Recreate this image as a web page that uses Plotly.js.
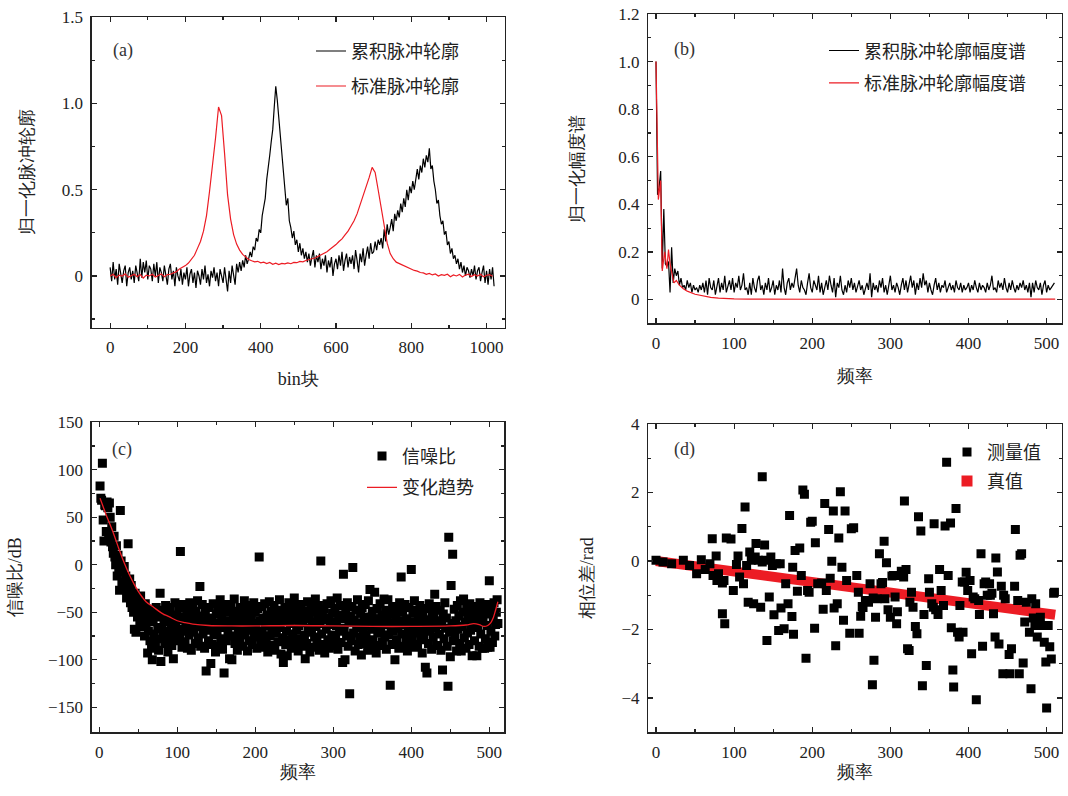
<!DOCTYPE html>
<html><head><meta charset="utf-8">
<script src="https://cdn.plot.ly/plotly-3.0.1.min.js"></script>
<style>html,body{margin:0;padding:0;background:#fff}#chart{width:1068px;height:796px}</style>
</head><body><div id="chart"></div>
<script>
// ---------- Panel (a): pulse profiles ----------
const aAccumStep = 4;   // bin spacing of accumulated profile samples
const aAccum = [
 0.05,-0.03,0.08,-0.02,0.04,-0.05,0.07,0.01,-0.04,0.03,
 0.06,-0.06,0.02,0.05,-0.02,0.03,-0.04,0.06,0.0,-0.03,
 0.1,-0.01,0.08,0.02,0.09,-0.02,0.06,0.04,-0.03,0.07,
 0.0,0.08,-0.04,0.05,0.02,-0.03,0.06,0.01,-0.05,0.04,
 0.07,-0.02,0.03,-0.06,0.05,0.0,-0.03,0.04,-0.05,0.02,
 -0.02,0.05,-0.06,0.01,0.04,-0.04,0.02,-0.07,0.03,0.0,
 -0.05,0.04,-0.02,0.06,-0.04,0.01,-0.06,0.03,-0.01,0.05,
 -0.03,0.02,-0.06,0.04,0.0,-0.04,0.05,-0.02,-0.09,0.03,
 -0.04,0.06,0.0,-0.05,0.07,0.02,0.08,0.03,0.09,0.05,
 0.12,0.07,0.1,0.14,0.11,0.17,0.15,0.22,0.2,0.27,
 0.25,0.35,0.4,0.45,0.56,0.62,0.7,0.78,0.85,0.98,
 1.1,1.02,0.92,0.78,0.72,0.6,0.52,0.41,0.45,0.32,
 0.28,0.22,0.26,0.18,0.21,0.14,0.19,0.12,0.16,0.1,
 0.14,0.08,0.13,0.06,0.11,0.15,0.05,0.12,0.08,0.13,
 0.04,0.1,0.06,0.12,0.02,0.09,0.05,0.11,0.0,0.07,
 0.1,0.04,0.12,0.06,0.14,0.03,0.09,0.13,0.05,0.11,
 0.07,0.12,0.04,0.15,0.09,0.02,0.13,0.08,0.16,0.06,
 0.12,0.17,0.1,0.19,0.13,0.14,0.2,0.15,0.21,0.18,
 0.22,0.16,0.27,0.2,0.3,0.24,0.28,0.33,0.26,0.36,
 0.32,0.38,0.34,0.42,0.37,0.45,0.4,0.5,0.44,0.52,
 0.48,0.55,0.5,0.58,0.62,0.56,0.64,0.6,0.68,0.63,
 0.7,0.66,0.74,0.62,0.64,0.55,0.5,0.42,0.44,0.35,
 0.3,0.32,0.24,0.26,0.18,0.2,0.13,0.16,0.1,0.12,
 0.07,0.1,0.04,0.08,0.02,0.06,0.0,0.05,0.03,-0.01,
 0.04,0.0,0.06,-0.02,0.03,0.05,-0.03,0.02,0.06,-0.04,
 0.03,-0.05,0.04,-0.02,0.05,-0.06
];
const aStdStep = 8;
const aStd = [
 0.0,0.01,-0.01,0.005,0.0,0.012,-0.008,0.0,
 0.01,-0.005,0.008,-0.012,0.005,0.0,0.01,-0.006,
 0.004,0.012,-0.004,0.008,0.01,0.018,0.025,0.04,
 0.05,0.06,0.075,0.095,0.12,0.16,0.2,0.26,
 0.35,0.49,0.63,0.8,0.98,0.93,0.71,0.47,
 0.33,0.24,0.185,0.15,0.125,0.11,0.095,0.088,
 0.082,0.085,0.076,0.08,0.072,0.078,0.068,0.074,
 0.066,0.073,0.07,0.076,0.071,0.079,0.077,0.084,
 0.082,0.09,0.093,0.1,0.104,0.113,0.12,0.132,
 0.14,0.155,0.168,0.182,0.2,0.215,0.238,0.26,
 0.29,0.32,0.36,0.41,0.46,0.52,0.57,0.63,
 0.6,0.5,0.39,0.28,0.19,0.13,0.1,0.08,
 0.072,0.06,0.055,0.046,0.04,0.032,0.028,0.02,
 0.018,0.01,0.015,0.006,0.012,0.0,0.008,0.004,
 0.01,-0.004,0.006,0.0,0.009,-0.006,0.005,0.01,
 -0.003,0.007,0.0,0.01,-0.005,0.004,0.008,-0.002
];

// ---------- Panel (b): amplitude spectra ----------
const bSpecStep = 2;
const bSpec = [
 1.0,0.44,0.47,0.54,0.13,0.38,0.15,0.14,0.16,0.03,
 0.22,0.07,0.13,0.1,0.12,0.06,0.09,0.05,0.06,0.04,
 0.08,0.05,0.07,0.03,0.06,0.04,0.05,0.03,0.06,0.04,
 0.07,0.03,0.08,0.02,0.09,0.05,0.04,0.08,0.02,0.06,
 0.09,0.03,0.07,0.04,0.1,0.03,0.05,0.08,0.04,0.09,
 0.03,0.07,0.05,0.1,0.04,0.06,0.11,0.04,0.05,0.02,
 0.07,0.02,0.09,0.05,0.03,0.08,0.1,0.04,0.06,0.02,
 0.07,0.04,0.09,0.03,0.05,0.08,0.02,0.06,0.04,0.08,
 0.03,0.13,0.05,0.02,0.07,0.09,0.04,0.07,0.05,0.1,
 0.13,0.06,0.03,0.08,0.05,0.04,0.02,0.07,0.11,0.05,
 0.03,0.08,0.06,0.04,0.1,0.03,0.07,0.02,0.05,0.08,
 0.04,0.1,0.06,0.03,0.09,0.01,0.07,0.05,0.1,0.04,
 0.02,0.06,0.03,0.08,0.05,0.09,0.04,0.07,0.03,0.06,
 0.08,0.04,0.06,0.02,0.05,0.07,0.04,0.11,0.01,0.07,
 0.04,0.06,0.03,0.08,0.05,0.09,0.03,0.06,0.02,0.07,
 0.1,0.04,0.06,0.03,0.07,0.05,0.02,0.06,0.09,0.04,
 0.08,0.03,0.06,0.1,0.05,0.08,0.02,0.07,0.04,0.09,
 0.05,0.11,0.06,0.08,0.03,0.07,0.04,0.02,0.06,0.09,
 0.04,0.07,0.03,0.06,0.05,0.08,0.03,0.05,0.07,0.04,
 0.06,0.03,0.08,0.05,0.04,0.07,0.03,0.06,0.04,0.05,
 0.07,0.03,0.06,0.04,0.08,0.05,0.03,0.07,0.04,0.06,
 0.05,0.03,0.07,0.04,0.06,0.1,0.04,0.05,0.03,0.08,
 0.05,0.07,0.04,0.09,0.05,0.03,0.07,0.04,0.08,0.05,
 0.03,0.06,0.04,0.07,0.05,0.08,0.04,0.06,0.03,0.07,
 0.01,0.07,0.03,0.08,0.05,0.04,0.07,0.02,0.06,0.08,
 0.03,0.06,0.04,0.05,0.06,0.07
];
const bStdX = [0,3,6,8,11,14,16,18,21,23,26,30,35,40,50,60,70,80,90,100,120,150,200,250,300,350,400,450,480,500,511];
const bStd  = [1.0,0.42,0.5,0.12,0.2,0.13,0.21,0.15,0.1,0.07,0.08,0.06,0.045,0.035,0.022,0.014,0.009,0.006,0.004,0.003,0.002,0.001,0.001,0.002,0.001,0.002,0.001,0.002,0.003,0.001,0.002];

// ---------- Panel (c): SNR per frequency ----------
const cFirstFreq = 1;
const cSNR = [
 83,70,68,107,47,25,63,62,35,66,
 60,31,65,50,24,40,19,12,30,8,
 0,20,-12,10,-5,-27,57,4,-18,-8,
 -25,-2,-20,-12,-35,-28,22,-30,-15,-40,
 -22,-45,-35,-50,-68,-30,-71,-42,-55,-38,
 -48,-60,-33,-52,-65,-45,-58,-75,-41,-62,
 -50,-93,-70,-55,-80,-47,-88,-100,-60,-73,
 -52,-85,-45,-78,-66,-90,-55,-30,-102,-68,
 -48,-75,-60,-83,-43,-70,-58,-92,-50,-77,
 -45,-65,-85,-57,-99,-72,-40,-62,-80,-53,
 -68,-45,-76,14,-58,-87,-42,-70,-55,-81,
 -63,-47,-88,-52,-74,-40,-66,-90,-57,-44,
 -71,-60,-83,-49,-65,-38,-77,-54,-23,-86,
 -59,-42,-73,-64,-88,-50,-112,-69,-56,-80,
 -45,-67,-104,-58,-84,-41,-74,-61,-92,-52,
 -70,-46,-86,-63,-37,-78,-55,-89,-48,-114,
 -66,-42,-80,-59,-72,-50,-99,-64,-44,-100,
 -75,-57,-36,-83,-62,-49,-90,-68,-53,-77,
 -45,-71,-60,-86,-52,-38,-74,-65,-47,-91,
 -58,-80,-43,-69,-55,-84,-62,-40,-76,-50,
 -67,-88,-46,-73,8,-59,-82,-44,-70,-56,
 -87,-41,-64,-78,-53,-92,-61,-39,-75,-49,
 -68,-85,-57,-43,-90,-63,-72,-48,-81,-55,
 -37,-66,-94,-52,-77,-103,-60,-45,-84,-70,
 -96,-54,-40,-79,-62,-88,-47,-73,-58,-35,
 -82,-51,-69,-44,-91,-64,-56,-78,-42,-86,
 -61,-49,-74,-99,-53,-83,-39,-67,-57,-92,
 -45,-71,-60,-87,-50,-76,-36,-65,-81,-55,
 -43,-90,-62,4,-73,-52,-84,-47,-93,-58,
 -68,-41,-79,-56,-88,-63,-38,-74,-51,-85,
 -60,-46,-77,-64,-35,-89,-53,-70,-43,-82,
 -57,-103,-10,-67,-100,-49,-75,-40,-86,-61,
 -136,-54,-80,-44,-3,-72,-58,-91,-48,-66,
 -37,-84,-62,-76,-51,-95,-45,-70,-59,-83,
 -42,-74,-64,-90,-38,-55,-26,-87,-68,-49,
 -79,-57,-29,-65,-93,-46,-72,-60,-85,-41,
 -69,-53,-81,-63,-36,-76,-48,-89,-58,-37,
 -74,-52,-127,-66,-84,-44,-70,-61,-100,-55,
 -79,-47,-67,-88,-40,-59,-13,-73,-50,-86,
 -63,-42,-77,-57,-91,-69,-45,-82,-60,-5,
 -75,-51,-87,-38,-64,-72,-48,-84,-56,-68,
 -43,-79,-61,-93,-53,-74,-46,-108,-66,-114,
 -58,-83,-41,-70,-62,-89,-50,-76,-55,-31,
 -67,-44,-85,-85,-59,-73,-48,-90,-63,-111,
 -52,-78,-40,-67,-56,-86,-128,29,-71,-97,
 -22,-62,11,-80,-47,-74,-59,-91,-43,-68,
 -54,-83,-38,-91,-65,-50,-36,-77,-60,-88,
 -45,-72,-57,-84,-41,-69,-53,-96,-62,-48,
 -80,-58,-44,-96,-66,-51,-86,-40,-73,-60,
 -88,-55,-47,-88,-78,-42,-64,-87,-52,-17,
 -87,-70,-45,-82,-58,-40,-75,-63,-50,-37,
 -62
];
const cTrendX = [1,5,10,15,20,25,30,35,40,45,50,55,60,70,80,90,100,110,120,140,170,200,250,300,350,400,450,470,480,487,493,498,502,505,508,511];
const cTrendY = [70,61,50,40,29,17,6,-4,-13,-21,-28,-34,-39,-45,-51,-55,-59,-61,-62.5,-64,-64.5,-64.5,-64,-64.5,-65,-65,-64.5,-63.5,-62,-63,-65,-64,-61,-56,-48,-39];

// ---------- Panel (d): phase difference ----------
const dFreq = [
 0,9,20,35,43,52,58,63,69,72,
 73,77,78,80,85,87,85,88,90,96,
 99,103,105,107,110,112,114,116,118,120,
 122,125,127,128,131,134,136,139,140,142,
 145,147,149,151,154,157,159,160,164,166,
 169,171,174,175,176,178,181,184,186,188,
 190,192,194,196,198,200,203,204,207,212,
 214,216,218,221,223,225,227,228,230,232,
 234,236,238,240,242,244,248,250,253,257,
 259,260,262,264,265,268,272,274,277,278,
 279,281,283,286,288,290,292,293,295,297,
 300,302,304,306,308,309,311,314,317,318,
 320,322,324,325,327,329,332,334,336,339,
 341,343,346,349,350,353,355,356,358,361,
 363,365,368,370,372,374,377,378,380,381,
 384,386,388,389,392,393,395,397,399,402,
 404,406,408,410,413,414,416,418,420,422,
 424,427,428,430,432,434,435,437,439,442,
 444,445,447,452,453,455,459,460,463,465,
 466,468,470,472,474,478,480,481,483,485,
 486,488,490,492,495,497,499,500,502,504,
 506,509,510,136
];
const dPhase = [
 0.02,-0.03,-0.08,0.02,-0.13,-0.37,0.04,-0.25,-0.08,0.65,
 -0.42,0.15,-0.57,-0.37,-0.64,-0.57,-1.54,-1.83,0.67,0.64,
 -0.86,-0.10,0.15,-0.47,0.95,-0.66,1.58,-0.13,-1.2,0.26,
 0.02,-1.25,0.12,0.51,0.02,-1.35,-0.03,0.47,0.02,-2.32,
 -1.05,0.12,-0.13,-1.57,-0.08,-2.03,-0.08,-1.37,-1.98,-0.66,
 -1.25,1.33,-1.62,-0.18,-2.14,0.31,-0.88,0.38,-0.42,2.07,
 1.95,-2.84,-0.86,-0.91,1.13,1.16,-1.96,0.53,-0.66,-0.64,
 -1.41,1.68,-0.86,0.92,-0.50,-0.01,1.46,-1.37,-2.47,-1.25,
 0.67,2.02,-0.18,-1.73,1.46,-0.57,-2.11,0.94,0.97,-0.42,
 -0.91,-2.11,-1.61,-1.33,-1.36,-1.15,-1.2,-0.66,-3.61,-1.08,
 -2.9,-1.64,-1.10,0.21,-0.66,-0.63,0.58,-1.10,-0.05,-1.42,
 -1.64,-0.44,-0.42,-1.05,-1.83,-1.48,-0.42,-0.30,-0.47,1.75,
 -0.25,-2.56,-2.61,-1.20,-0.91,-1.35,-1.91,-2.12,1.29,0.88,
 -3.64,-1.56,-3.05,-0.52,-0.91,-1.25,-1.35,1.09,-1.42,-1.56,
 -0.25,-0.86,-1.30,1.02,2.88,-0.42,1.11,-1.95,-3.18,-3.68,
 1.53,-2.08,-2.22,-1.30,-0.61,-2.08,-0.61,-0.33,-0.86,-0.57,
 -2.71,-1.05,-1.10,-4.05,-1.15,-1.56,0.21,-2.49,-0.66,-0.61,
 -1.0,-0.66,-1.0,-0.94,-1.54,-2.22,0.09,-0.32,-2.42,-0.74,
 -3.29,-1.0,-1.10,-2.73,-3.29,-2.56,-0.74,0.92,-1.15,-3.29,
 0.17,0.21,-2.98,-1.78,-1.20,-2.08,-3.73,-1.10,-1.66,-1.88,
 -1.25,-2.22,-1.88,-1.64,-1.88,-2.37,-2.95,-4.29,-1.88,-2.50,
 -2.86,-0.94,-0.91,2.46
];
const dTrueX = [0, 511];
const dTrueY = [0, -1.57];

// ---------- labels ----------
const legendA = ['累积脉冲轮廓', '标准脉冲轮廓'];
const legendB = ['累积脉冲轮廓幅度谱', '标准脉冲轮廓幅度谱'];
const legendC = ['信噪比', '变化趋势'];
const legendD = ['测量值', '真值'];
const panelTags = ['(a)', '(b)', '(c)', '(d)'];
const aYTicks = [0, 0.5, 1.0, 1.5], aYText = ['0', '0.5', '1.0', '1.5'];
const bYTicks = [0, 0.2, 0.4, 0.6, 0.8, 1.0, 1.2], bYText = ['0', '0.2', '0.4', '0.6', '0.8', '1.0', '1.2'];

// ---------- build ----------
const RED = '#ec1c24', BLK = '#000000', AX = '#222222';
const SERIF = 'Liberation Serif';
const CJK = 'Noto Sans CJK SC';
const aAccumX = aAccum.map((_, i) => i * aAccumStep);
const aStdX = aStd.map((_, i) => i * aStdStep);
const bSpecX = bSpec.map((_, i) => i * bSpecStep);
const cFreq = cSNR.map((_, i) => i + cFirstFreq);

const traces = [
  {x: aAccumX, y: aAccum, xaxis: 'x', yaxis: 'y', mode: 'lines', name: legendA[0], legend: 'legend', legendgroup: 'a1',
   line: {color: BLK, width: 1.2}},
  {x: aStdX, y: aStd, xaxis: 'x', yaxis: 'y', mode: 'lines', name: legendA[1], legend: 'legend', legendgroup: 'a2',
   line: {color: RED, width: 1.2}},
  {x: bSpecX, y: bSpec, xaxis: 'x2', yaxis: 'y2', mode: 'lines', name: legendB[0], legend: 'legend2', legendgroup: 'b1',
   line: {color: BLK, width: 1.2}},
  {x: bStdX, y: bStd, xaxis: 'x2', yaxis: 'y2', mode: 'lines', name: legendB[1], legend: 'legend2', legendgroup: 'b2',
   line: {color: RED, width: 1.2}},
  {x: cFreq, y: cSNR, xaxis: 'x3', yaxis: 'y3', mode: 'markers', name: legendC[0], legend: 'legend3', legendgroup: 'c1',
   marker: {symbol: 'square', size: 9, color: BLK}},
  {x: cTrendX, y: cTrendY, xaxis: 'x3', yaxis: 'y3', mode: 'lines', name: legendC[1], legend: 'legend3', legendgroup: 'c2',
   line: {color: RED, width: 1.3, shape: 'spline'}},
  {x: dTrueX, y: dTrueY, xaxis: 'x4', yaxis: 'y4', mode: 'lines', name: legendD[1], showlegend: false,
   line: {color: RED, width: 10}},
  {x: dFreq, y: dPhase, xaxis: 'x4', yaxis: 'y4', mode: 'markers', name: legendD[0], legend: 'legend4', legendgroup: 'd1',
   marker: {symbol: 'square', size: 9, color: BLK}},
  {x: [null], y: [null], xaxis: 'x4', yaxis: 'y4', mode: 'markers', name: legendD[1], legend: 'legend4', legendgroup: 'd2',
   marker: {symbol: 'square', size: 11, color: RED}}
];

function axis(o) {
  const base = {
    ticks: 'inside', ticklen: 5, tickwidth: 1.2, tickcolor: AX,
    showline: true, linecolor: AX, linewidth: 1.3, mirror: 'allticks',
    showgrid: false, zeroline: false, fixedrange: true, automargin: false,
    tickfont: {family: SERIF, size: 17, color: AX},
    ticklabelstandoff: 4,
    minor: {ticks: 'inside', ticklen: 3, tickwidth: 1.2, tickcolor: AX, showgrid: false, tickvals: o.minor}
  };
  delete o.minor;
  return Object.assign(base, o);
}
function ttl(text, standoff) {
  return {text: text, font: {family: SERIF, size: 18, color: AX}, standoff: standoff};
}
const W = 1068, H = 796;
const px = v => v / W, py = v => 1 - v / H;

const legBase = {bgcolor: 'rgba(0,0,0,0)', borderwidth: 0, xanchor: 'left', yanchor: 'top',
  traceorder: 'grouped', font: {family: CJK, size: 18, color: AX}};

const layout = {
  width: W, height: H, margin: {l: 0, r: 0, t: 0, b: 0},
  paper_bgcolor: '#fff', plot_bgcolor: '#fff', showlegend: true,
  xaxis: axis({domain: [px(91.7), px(505)], range: [-49, 1049], anchor: 'y',
    tickvals: [0, 200, 400, 600, 800, 1000], minor: [100, 300, 500, 700, 900], title: ttl('bin块', 16)}),
  yaxis: axis({domain: [py(327.7), py(17.3)], range: [-0.3, 1.5], anchor: 'x',
    tickvals: aYTicks, ticktext: aYText, minor: [-0.25, 0.25, 0.75, 1.25], title: ttl('归一化脉冲轮廓', 23)}),
  xaxis2: axis({domain: [px(648.3), px(1061.7)], range: [-9.85, 519.3], anchor: 'y2',
    tickvals: [0, 100, 200, 300, 400, 500], minor: [50, 150, 250, 350, 450], title: ttl('频率', 17)}),
  yaxis2: axis({domain: [py(323.3), py(14)], range: [-0.1, 1.2], anchor: 'x2',
    tickvals: bYTicks, ticktext: bYText, minor: [0.1, 0.3, 0.5, 0.7, 0.9, 1.1], title: ttl('归一化幅度谱', 30)}),
  xaxis3: axis({domain: [px(91.7), px(504.3)], range: [-9.7, 519.2], anchor: 'y3',
    tickvals: [0, 100, 200, 300, 400, 500], minor: [50, 150, 250, 350, 450], title: ttl('频率', 4)}),
  yaxis3: axis({domain: [py(732.3), py(422.3)], range: [-176.5, 150], anchor: 'x3',
    tickvals: [-150, -100, -50, 0, 50, 100, 150], minor: [-125, -75, -25, 25, 75, 125], title: ttl('信噪比/dB', 21)}),
  xaxis4: axis({domain: [px(648.3), px(1061.7)], range: [-9.85, 519.3], anchor: 'y4',
    tickvals: [0, 100, 200, 300, 400, 500], minor: [50, 150, 250, 350, 450], title: ttl('频率', 4)}),
  yaxis4: axis({domain: [py(732.3), py(424)], range: [-5, 4], anchor: 'x4',
    tickvals: [-4, -2, 0, 2, 4], minor: [-3, -1, 1, 3], title: ttl('相位差/rad', 23)}),
  legend:  Object.assign({}, legBase, {x: px(311), y: py(32.8), tracegroupgap: 8.6}),
  legend2: Object.assign({}, legBase, {x: px(824), y: py(32.3), tracegroupgap: 6}),
  legend3: Object.assign({}, legBase, {x: px(362), y: py(437.8), tracegroupgap: 5}),
  legend4: Object.assign({}, legBase, {x: px(947), y: py(433.8), tracegroupgap: 2.6}),
  annotations: [
    {text: panelTags[0], x: px(122.5), y: py(50.5)},
    {text: panelTags[1], x: px(684.5), y: py(50)},
    {text: panelTags[2], x: px(121.5), y: py(450)},
    {text: panelTags[3], x: px(684.5), y: py(449.5)}
  ].map(a => Object.assign(a, {xref: 'paper', yref: 'paper', xanchor: 'center', yanchor: 'middle',
      showarrow: false, font: {family: SERIF, size: 18, color: '#333'}}))
};

Plotly.newPlot('chart', traces, layout, {staticPlot: true, displayModeBar: false});
</script></body></html>
